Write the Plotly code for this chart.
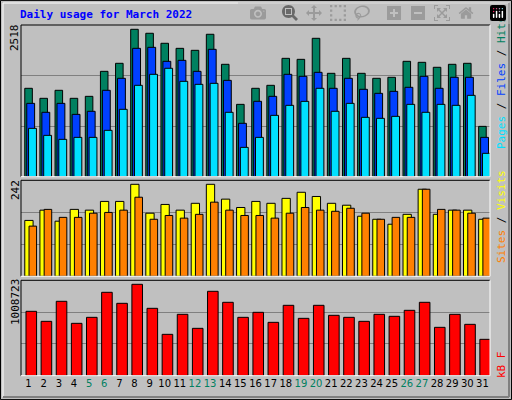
import plotly.graph_objects as go

days = list(range(1, 32))
weekend = [5, 6, 12, 13, 19, 20, 26, 27]
hits = [1510,1339,1476,1339,1373,1800,1937,2518,2450,2279,2193,2159,2433,1920,1236,1510,
        1561,2022,2005,2364,1766,2022,1766,1681,1698,1971,1954,1869,1920,1937,860]
files = [1253,1100,1253,1065,1117,1476,1681,2193,2210,1971,1988,1800,2176,1646,912,1288,
         1373,1749,1715,1783,1510,1681,1493,1424,1458,1527,1715,1510,1698,1698,672]
pages = [826,706,638,672,672,792,1151,1561,1749,1852,1629,1578,1595,1100,501,672,
         1048,1219,1287,1510,1117,1253,1014,997,1031,1236,1100,1236,1219,1390,399]
visits = [147,174,145,176,174,197,197,242,166,189,174,192,242,203,181,197,
          192,205,221,210,192,187,158,150,137,163,229,163,174,174,150]
sites = [132,176,155,155,166,168,174,208,150,160,153,163,195,174,160,160,
         153,166,181,174,171,179,166,150,155,155,229,176,174,166,153]
kbytes = [710530,600080,820970,578000,644260,920380,798890,1008723,743660,456510,677400,
          522770,931420,809930,644260,699490,589040,776800,633220,776800,666350,644260,
          600080,677400,655310,721570,809930,533820,677400,566950,401280]

W, H = 512, 400
def py(p): return 1 - p / H
x0, x1 = 21 / W, 490 / W
panels = [(25, 176.7), (180.3, 276.3), (280.3, 375.7)]
ranges = [2518 * 151.7 / 147.4, 242 * 288 / 276, 1008723 * 286 / 274]

fig = go.Figure()
def bar(y, color, off, w, ax):
    fig.add_trace(go.Bar(x=days, y=y, offset=off, width=w, marker_color=color,
                         marker_line_color="black", marker_line_width=1,
                         xaxis="x" + ax, yaxis="y" + ax, showlegend=False, hoverinfo="skip"))

bar(hits, "#008060", -0.25, 0.5, "")
bar(files, "#0040FF", -0.12, 0.52, "")
bar(pages, "#00E0FF", 0.0, 0.52, "")
bar(visits, "#FFFF00", -0.25, 0.55, "2")
bar(sites, "#FF8000", 0.03, 0.5, "2")
bar(kbytes, "#FF0000", -0.17, 0.7, "3")

tickt = [f"<span style='color:#008060'>{d}</span>" if d in weekend else str(d) for d in days]
lay = dict(width=W, height=H, margin=dict(l=0, r=0, t=0, b=0),
           paper_bgcolor="#C0C0C0", plot_bgcolor="#C0C0C0", barmode="overlay")
for i, (top, bot) in enumerate(panels):
    s = "" if i == 0 else str(i + 1)
    lay["xaxis" + s] = dict(domain=[x0, x1], range=[0.5, 31.5], showgrid=False, zeroline=False,
                            anchor="y" + s, showticklabels=(i == 2), tickangle=0,
                            tickvals=days if i == 2 else None, ticktext=tickt if i == 2 else None,
                            tickfont=dict(family="DejaVu Sans", size=10, color="black"), ticks="")
    lay["yaxis" + s] = dict(domain=[py(bot), py(top)], range=[0, ranges[i]], dtick=ranges[i] / 3,
                            showticklabels=False, gridcolor="#808080", gridwidth=1,
                            zeroline=False, anchor="x" + s)
fig.update_layout(**lay)

shapes = []
for top, bot in panels:
    shapes += [dict(type="line", xref="paper", yref="paper", x0=x0, x1=x1, y0=py(top), y1=py(top), line=dict(color="black", width=1)),
               dict(type="line", xref="paper", yref="paper", x0=x0, x1=x0, y0=py(top), y1=py(bot), line=dict(color="black", width=1)),
               dict(type="line", xref="paper", yref="paper", x0=x0, x1=x1, y0=py(bot), y1=py(bot), line=dict(color="white", width=1)),
               dict(type="line", xref="paper", yref="paper", x0=x1, x1=x1, y0=py(top), y1=py(bot), line=dict(color="white", width=1))]
shapes += [dict(type="rect", xref="paper", yref="paper", x0=0.001, x1=0.999, y0=0.001, y1=0.999, line=dict(color="black", width=1)),
           dict(type="rect", xref="paper", yref="paper", x0=3/W, x1=1-3/W, y0=3/H, y1=1-3/H, line=dict(color="white", width=1)),
           dict(type="line", xref="paper", yref="paper", x0=3/W, x1=1-3/W, y0=3/H, y1=3/H, line=dict(color="#808080", width=2)),
           dict(type="line", xref="paper", yref="paper", x0=1-3/W, x1=1-3/W, y0=3/H, y1=1-3/H, line=dict(color="#808080", width=2))]
fig.update_layout(shapes=shapes)

mono = "DejaVu Sans Mono"
ann = [dict(text="<b>Daily usage for March 2022</b>", x=18/W, y=py(15), xanchor="left", yanchor="middle",
            font=dict(family=mono, size=11, color="#0000FF")),
       dict(text="2518", x=15/W, y=py(38), textangle=-90, font=dict(family=mono, size=11, color="black")),
       dict(text="242", x=15/W, y=py(190), textangle=-90, font=dict(family=mono, size=11, color="black")),
       dict(text="1008723", x=15/W, y=py(302), textangle=-90, font=dict(family=mono, size=11, color="black")),
       dict(text="<span style='color:#00E0FF'>Pages</span><span style='color:black'> / </span><span style='color:#0040FF'>Files</span><span style='color:black'> / </span><span style='color:#008060'>Hits</span>",
            x=501/W, y=py(83), textangle=-90, font=dict(family=mono, size=11)),
       dict(text="<span style='color:#FF8000'>Sites</span><span style='color:black'> / </span><span style='color:#FFFF00'>Visits</span>",
            x=501/W, y=py(217), textangle=-90, font=dict(family=mono, size=11)),
       dict(text="kB F", x=501/W, y=py(365), textangle=-90, font=dict(family=mono, size=11, color="#FF0000"))]
for a in ann:
    a.update(xref="paper", yref="paper", showarrow=False)
    a.setdefault("xanchor", "center"); a.setdefault("yanchor", "middle")
fig.update_layout(annotations=ann)
fig.write_html("out.html", post_script="document.body.style.margin='0';document.body.style.overflow='hidden';")
